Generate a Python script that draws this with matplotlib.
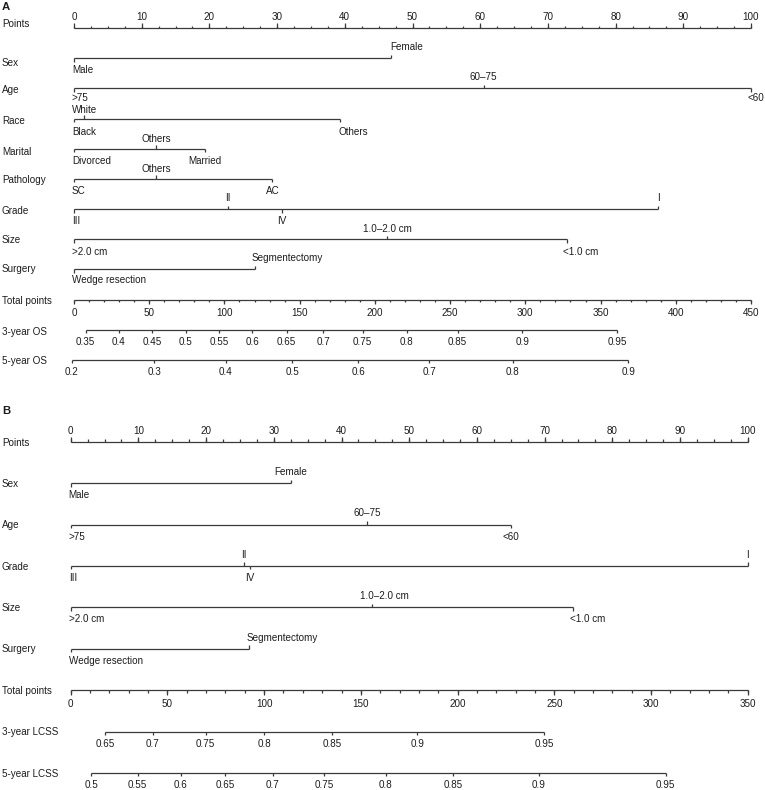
import numpy as np
import matplotlib
matplotlib.use('Agg')
import matplotlib.pyplot as plt
from matplotlib.transforms import offset_copy, blended_transform_factory

plt.rcParams['font.family'] = ['Liberation Sans', 'DejaVu Sans']

# ---------------- Panel A data ----------------
A_point_ticks = [0, 10, 20, 30, 40, 50, 60, 70, 80, 90, 100]
A_sex_levels = ['Male', 'Female']
A_sex_points = [0, 46.8]
A_age_levels = ['>75', '60–75', '<60']
A_age_points = [0, 60.5, 100]
A_race_levels = ['Black', 'White', 'Others']
A_race_points = [0, 1.5, 39.3]
A_marital_levels = ['Divorced', 'Others', 'Married']
A_marital_points = [0, 12.1, 19.4]
A_pathology_levels = ['SC', 'Others', 'AC']
A_pathology_points = [0, 12.1, 29.3]
A_grade_levels = ['III', 'II', 'IV', 'I']
A_grade_points = [0, 22.7, 30.7, 86.3]
A_size_levels = ['>2.0 cm', '1.0–2.0 cm', '<1.0 cm']
A_size_points = [0, 46.3, 72.8]
A_surgery_levels = ['Wedge resection', 'Segmentectomy']
A_surgery_points = [0, 26.8]
A_total_ticks = [0, 50, 100, 150, 200, 250, 300, 350, 400, 450]
A_os3_probs = [0.35, 0.4, 0.45, 0.5, 0.55, 0.6, 0.65, 0.7, 0.75, 0.8, 0.85, 0.9, 0.95]
A_os3_total = [7.8, 29.9, 52.1, 74.2, 96.4, 118.5, 141.4, 165.7, 191.9, 221.1, 255.0, 298.0, 361.2]
A_os5_probs = [0.2, 0.3, 0.4, 0.5, 0.6, 0.7, 0.8, 0.9]
A_os5_total = [-1.5, 53.4, 100.8, 145.1, 189.0, 236.2, 291.6, 368.5]

# ---------------- Panel B data ----------------
B_point_ticks = [0, 10, 20, 30, 40, 50, 60, 70, 80, 90, 100]
B_sex_levels = ['Male', 'Female']
B_sex_points = [0, 32.5]
B_age_levels = ['>75', '60–75', '<60']
B_age_points = [0, 43.8, 65.0]
B_grade_levels = ['III', 'II', 'IV', 'I']
B_grade_points = [0, 25.6, 26.5, 100]
B_size_levels = ['>2.0 cm', '1.0–2.0 cm', '<1.0 cm']
B_size_points = [0, 44.5, 74.2]
B_surgery_levels = ['Wedge resection', 'Segmentectomy']
B_surgery_points = [0, 26.3]
B_total_ticks = [0, 50, 100, 150, 200, 250, 300, 350]
B_lcss3_probs = [0.65, 0.7, 0.75, 0.8, 0.85, 0.9, 0.95]
B_lcss3_total = [17.7, 42.4, 69.8, 100.1, 135.0, 179.2, 244.7]
B_lcss5_probs = [0.5, 0.55, 0.6, 0.65, 0.7, 0.75, 0.8, 0.85, 0.9, 0.95]
B_lcss5_total = [10.5, 34.6, 57.0, 79.8, 104.4, 131.1, 162.9, 197.8, 242.1, 307.6]

# ---------------- style ----------------
W, H, DPI = 765, 790, 100
FS = 7.1
LINE = '#3a3a3a'
TEXT = '#1c1c1c'
LW = 0.9

fig = plt.figure(figsize=(W / DPI, H / DPI), dpi=DPI)
fig.patch.set_facecolor('white')


def make_axes(top_px, bot_px, x0_px, x100_px, row0_px, step_px):
    ax = fig.add_axes([0, 1 - bot_px / H, 1, (bot_px - top_px) / H])
    sc = (x100_px - x0_px) / 100.0
    ax.set_xlim(-x0_px / sc, (W - x0_px) / sc)
    ax.set_ylim((bot_px - row0_px) / step_px, (top_px - row0_px) / step_px)
    ax.axis('off')
    ax._step = step_px
    return ax


def put(ax, x, y, s, dx=0, dy=0, ha='center', trans=None, **kw):
    base = ax.transData if trans is None else trans
    t = offset_copy(base, fig=fig, x=dx, y=-dy, units='dots')
    ax.text(x, y, s, transform=t, ha=ha, va='baseline', fontsize=kw.pop('fontsize', FS),
            color=TEXT, **kw)


def hline(ax, x1, x2, row):
    ax.plot([x1, x2], [row, row], color=LINE, lw=LW, solid_capstyle='butt')


def tick(ax, x, row, length_px, up):
    d = length_px / ax._step
    y2 = row - d if up else row + d
    ax.plot([x, x], [row, y2], color=LINE, lw=LW, solid_capstyle='butt')


def row_label(ax, row, s, dy):
    tr = blended_transform_factory(ax.transAxes, ax.transData)
    put(ax, 2.0 / W, row, s, dx=0, dy=dy, ha='left', trans=tr)


def points_axis(ax, row, ticks):
    hline(ax, ticks[0], ticks[-1], row)
    for m in np.arange(ticks[0], ticks[-1] + 0.01, 2.5):
        tick(ax, m, row, 2.5, True)
    for t in ticks:
        tick(ax, t, row, 5, True)
        put(ax, t, row, f'{t:g}', dy=-8)


def var_axis(ax, row, levels, pts, left_set, above_dy=-8, below_dy=15):
    hline(ax, min(pts), max(pts), row)
    order = sorted(range(len(pts)), key=lambda i: pts[i])
    for k, i in enumerate(order):
        up = (k % 2 == 1)
        tick(ax, pts[i], row, 3.5, up)
        dy = above_dy if up else below_dy
        lab = levels[i]
        if pts[i] == 0:
            put(ax, pts[i], row, lab, dx=-2, dy=dy, ha='left')
        elif lab in left_set:
            put(ax, pts[i], row, lab, dx=left_set[lab], dy=dy, ha='left')
        else:
            put(ax, pts[i], row, lab, dy=dy)


def total_axis(ax, row, ticks, tmax):
    f = 100.0 / tmax
    hline(ax, ticks[0] * f, ticks[-1] * f, row)
    for m in np.arange(ticks[0], ticks[-1] + 0.01, 10):
        tick(ax, m * f, row, 2.5, False)
    for t in ticks:
        tick(ax, t * f, row, 4.5, False)
        put(ax, t * f, row, f'{t:g}', dy=16.5)


def prob_axis(ax, row, probs, totals, tmax):
    f = 100.0 / tmax
    hline(ax, totals[0] * f, totals[-1] * f, row)
    for p, t in zip(probs, totals):
        tick(ax, t * f, row, 3.5, False)
        put(ax, t * f, row, f'{p:g}', dy=15.5)


# ---------------- Panel A ----------------
axA = make_axes(0, 400, 74, 751, 28, 30.18)
put(axA, 2.0 / W, -0.9, 'A', trans=blended_transform_factory(axA.transAxes, axA.transData),
    ha='left', dy=9.5, fontsize=8.2, fontweight='bold')
A_names = ['Points', 'Sex', 'Age', 'Race', 'Marital', 'Pathology', 'Grade', 'Size', 'Surgery',
           'Total points', '3-year OS', '5-year OS']
A_name_dy = [-1, 8, 4.5, 5, 6, 4, 4.5, 4, 3, 4, 5.5, 4.5]
for r, (nm, d) in enumerate(zip(A_names, A_name_dy)):
    row_label(axA, r, nm, d)
points_axis(axA, 0, A_point_ticks)
A_vars = [(A_sex_levels, A_sex_points, {'Female': -1}, -8, 15),
          (A_age_levels, A_age_points, {'<60': -3}, -8, 12.5),
          (A_race_levels, A_race_points, {'Others': -2}, -5.5, 16),
          (A_marital_levels, A_marital_points, {}, -7, 15),
          (A_pathology_levels, A_pathology_points, {}, -7, 15),
          (A_grade_levels, A_grade_points, {}, -8, 15),
          (A_size_levels, A_size_points, {'<1.0 cm': -4}, -7.5, 16),
          (A_surgery_levels, A_surgery_points, {'Segmentectomy': -4}, -8.5, 14)]
for r, (lv, pt, ls, ady, bdy) in enumerate(A_vars, start=1):
    var_axis(axA, r, lv, pt, ls, ady, bdy)
total_axis(axA, 9, A_total_ticks, 450)
prob_axis(axA, 10, A_os3_probs, A_os3_total, 450)
prob_axis(axA, 11, A_os5_probs, A_os5_total, 450)

# ---------------- Panel B ----------------
axB = make_axes(400, 790, 70.7, 747.7, 441.7, 41.4)
put(axB, 2.0 / W, -0.78, 'B', trans=blended_transform_factory(axB.transAxes, axB.transData),
    ha='left', dy=4.5, fontsize=8.2, fontweight='bold')
B_names = ['Points', 'Sex', 'Age', 'Grade', 'Size', 'Surgery', 'Total points',
           '3-year LCSS', '5-year LCSS']
for r, nm in enumerate(B_names):
    row_label(axB, r, nm, 3.8)
points_axis(axB, 0, B_point_ticks)
B_vars = [(B_sex_levels, B_sex_points, {}),
          (B_age_levels, B_age_points, {}),
          (B_grade_levels, B_grade_points, {}),
          (B_size_levels, B_size_points, {'<1.0 cm': -3, '1.0–2.0 cm': -12}),
          (B_surgery_levels, B_surgery_points, {'Segmentectomy': -2})]
for r, (lv, pt, ls) in enumerate(B_vars, start=1):
    var_axis(axB, r, lv, pt, ls)
total_axis(axB, 6, B_total_ticks, 350)
prob_axis(axB, 7, B_lcss3_probs, B_lcss3_total, 350)
prob_axis(axB, 8, B_lcss5_probs, B_lcss5_total, 350)

fig.savefig('out.png', dpi=DPI, facecolor='white')
